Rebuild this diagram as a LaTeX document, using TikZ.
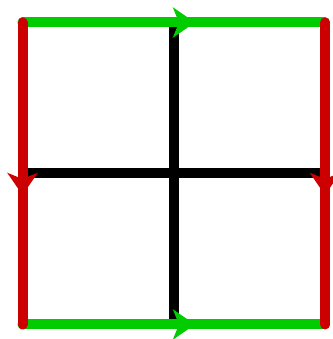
\documentclass[tikz,border=0pt]{standalone}
\usetikzlibrary{arrows.meta}
\definecolor{gr}{HTML}{00CC00}
\definecolor{rd}{HTML}{CC0000}
\begin{document}
\begin{tikzpicture}[x=1pt,y=1pt,
  edge/.style={line width=10pt, line cap=round},
  tipstyle/.style={line width=10pt, -{Stealth[length=22pt, width=30pt, inset=6pt]}}]
\useasboundingbox (0,0) rectangle (332,339);
\coordinate (tl) at (22.5,316.5);
\coordinate (tr) at (325,316.5);
\coordinate (bl) at (22.5,14.5);
\coordinate (br) at (325,14.5);
\coordinate (tm) at (174,316.5);
\coordinate (bm) at (174,14.5);
\coordinate (lm) at (22.5,165.5);
\coordinate (rm) at (325,165.5);
% arrow positions
\coordinate (ta0) at (172,316.5); \coordinate (ta1) at (195,316.5);
\coordinate (ba0) at (172,14.5);  \coordinate (ba1) at (195,14.5);
\coordinate (la0) at (22.5,167);  \coordinate (la1) at (22.5,144);
\coordinate (ra0) at (325,167);   \coordinate (ra1) at (325,144);
% black cross
\draw[edge, line cap=butt, black] (tm) -- (bm);
\draw[edge, line cap=butt, black] (lm) -- (rm);
% green
\draw[edge, gr] (tl) -- (tr);
\draw[edge, gr] (bl) -- (br);
\draw[tipstyle, gr] (ta0) -- (ta1);
\draw[tipstyle, gr] (ba0) -- (ba1);
% red
\draw[edge, rd] (tl) -- (bl);
\draw[edge, rd] (tr) -- (br);
\draw[tipstyle, rd] (la0) -- (la1);
\draw[tipstyle, rd] (ra0) -- (ra1);
\end{tikzpicture}
\end{document}
